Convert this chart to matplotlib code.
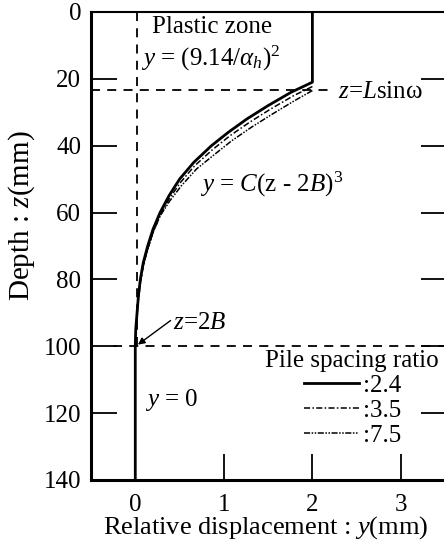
import matplotlib
matplotlib.use("Agg")
import matplotlib.pyplot as plt

plt.rcParams['font.family'] = ['Liberation Serif', 'DejaVu Serif']
plt.rcParams['mathtext.fontset'] = 'custom'
plt.rcParams['mathtext.rm'] = 'Liberation Serif'
plt.rcParams['mathtext.it'] = 'Liberation Serif:italic'

# depth z (mm) and relative displacement y (mm)
z_24 = [0, 21, 24, 28, 32, 36, 40, 45, 50, 55, 60, 65, 70, 75, 80, 85, 90, 95, 100, 140]
y_24 = [2.0, 2.0, 1.76, 1.50, 1.26, 1.05, 0.86, 0.66, 0.50, 0.38, 0.28, 0.20, 0.14,
        0.09, 0.057, 0.035, 0.02, 0.005, 0.0, 0.0]
z_35 = [22.3, 25, 29, 33, 37, 41, 46, 51, 56, 61, 66, 71, 76, 81, 86, 91, 96]
y_35 = [2.0, 1.79, 1.53, 1.29, 1.07, 0.88, 0.67, 0.51, 0.38, 0.28, 0.20, 0.14,
        0.09, 0.057, 0.035, 0.02, 0.005]
z_75 = [23.5, 26.5, 30.5, 34.5, 38.5, 42.5, 47, 52, 56.5, 61, 66, 71, 76, 81, 86, 91, 96]
y_75 = [2.0, 1.80, 1.55, 1.31, 1.09, 0.90, 0.69, 0.52, 0.39, 0.28, 0.20, 0.14,
        0.09, 0.057, 0.035, 0.02, 0.005]

z_plastic = 23.3   # z = L sin(omega)
z_2b = 100         # z = 2B
xticks = [0, 1, 2, 3]
yticks = [0, 20, 40, 60, 80, 100, 120, 140]

fig = plt.figure(figsize=(4.44, 5.46), dpi=100)
ax = fig.add_axes([91 / 444, 1 - 480 / 546, 356 / 444, 468 / 546])

ax.plot(y_24, z_24, color='black', lw=2.0, label=':2.4')
ax.plot(y_35, z_35, color='black', lw=1.1, dashes=(4, 1.5, 1, 1.5), label=':3.5')
ax.plot(y_75, z_75, color='black', lw=1.1, dashes=(4, 1, 1, 1, 1, 1), label=':7.5')

# guide lines
ax.plot([0.02, 0.02], [0, z_2b], color='black', lw=1.3, dashes=(5, 4))
ax.plot([-0.5, 2.23], [z_plastic, z_plastic], color='black', lw=1.3, dashes=(5, 4))
ax.plot([-0.25, 3.52], [z_2b, z_2b], color='black', lw=1.3, dashes=(5, 4))

fs = 18
ax.text(0.19, 4.5, 'Plastic zone', fontsize=fs, ha='left', va='center')
ax.text(0.06, 13.8, r'$y$ = (9.14/$\alpha_h$)$^2$', fontsize=fs, ha='left', va='center')
ax.text(2.29, 23.9, r'$z$=$L$sinω', fontsize=fs, ha='left', va='center', clip_on=False)
ax.text(0.73, 51.7, r'$y$ = $C$(z - 2$B$)$^3$', fontsize=fs, ha='left', va='center')
ax.text(0.11, 116, r'$y$ = 0', fontsize=fs, ha='left', va='center')
ax.annotate(r'$z$=2$B$', xy=(0.03, 99.5), xytext=(0.43, 93), fontsize=fs,
            ha='left', va='center',
            arrowprops=dict(arrowstyle='-|>', color='black', lw=1.0,
                            shrinkA=0, shrinkB=0, mutation_scale=10,
                            relpos=(0, 0.7)))

leg = ax.legend(title='Pile spacing ratio', loc='upper left',
                bbox_to_anchor=(1.47, 101), bbox_transform=ax.transData,
                frameon=False, fontsize=fs, title_fontsize=fs,
                handlelength=2.2, handletextpad=0.15, labelspacing=0.1,
                borderpad=0, borderaxespad=0)

ax.set_xlim(-0.5, 3.52)
ax.set_ylim(140, 0)
ax.set_xticks(xticks)
ax.set_yticks(yticks)
ax.tick_params(direction='in', length=19, width=1.3, labelsize=fs,
               top=False, right=True)
ax.tick_params(axis='y', pad=7)
ax.tick_params(axis='x', pad=10)
ax.spines['left'].set_linewidth(2.2)
ax.spines['bottom'].set_linewidth(2.2)
ax.spines['top'].set_linewidth(1.5)
ax.spines['right'].set_linewidth(1.5)

ax.set_xlabel(r'Relative displacement : $y$(mm)', fontsize=fs + 1)
ax.xaxis.set_label_coords(0.49, -0.074)
ax.set_ylabel(r'Depth : $z$(mm)', fontsize=fs + 3)
ax.yaxis.set_label_coords(-0.153, 0.564)

fig.savefig('out.png', dpi=100)
